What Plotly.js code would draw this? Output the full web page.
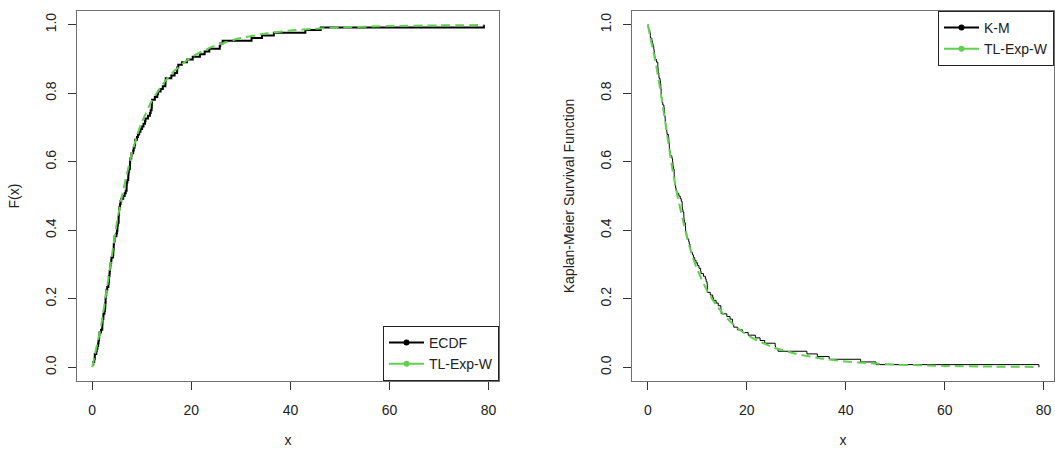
<!DOCTYPE html>
<html>
<head>
<meta charset="utf-8">
<script src="https://cdn.plot.ly/plotly-3.0.1.min.js"></script>
<style>html,body{margin:0;padding:0;background:#fff;}#chart{width:1055px;height:452px;}</style>
</head>
<body>
<div id="chart"></div>
<script>
// Observed data (sorted remission times)
const remissionTimes = [0.08,0.20,0.40,0.50,0.51,0.81,0.90,1.05,1.19,1.26,
  1.35,1.40,1.46,1.76,2.02,2.02,2.07,2.09,2.23,2.26,
  2.46,2.54,2.62,2.64,2.69,2.69,2.75,2.83,2.87,3.02,
  3.25,3.31,3.36,3.36,3.48,3.52,3.57,3.64,3.70,3.82,
  3.88,4.18,4.23,4.26,4.33,4.34,4.40,4.50,4.51,4.87,
  4.98,5.06,5.09,5.17,5.32,5.32,5.34,5.41,5.41,5.49,
  5.62,5.71,5.85,6.25,6.54,6.76,6.93,6.94,6.97,7.09,
  7.26,7.28,7.32,7.39,7.59,7.62,7.63,7.66,7.87,7.93,
  8.26,8.37,8.53,8.65,8.66,9.02,9.22,9.47,9.74,10.06,
  10.34,10.66,10.75,11.25,11.64,11.79,11.98,12.02,12.03,12.07,
  12.63,13.11,13.29,13.80,14.24,14.76,14.77,14.83,15.96,16.62,
  17.12,17.14,17.36,18.10,19.13,20.28,21.73,22.69,23.63,25.74,
  25.82,26.31,32.15,34.26,36.66,43.01,46.12,79.05];

// Fitted TL-Exp-W curves
const fitX    = [0, 0.5, 1, 1.5, 2, 3, 4, 5, 6, 7, 8, 9, 10, 12, 14, 16, 18, 20, 22, 25, 30, 35, 40, 45, 50, 60, 70, 79.05];
const fitCDF  = [0, 0.035, 0.068, 0.10, 0.14, 0.235, 0.33, 0.425, 0.50, 0.565, 0.625, 0.675, 0.715, 0.777, 0.822, 0.857, 0.884, 0.905, 0.921, 0.94, 0.961, 0.974, 0.983, 0.988, 0.992, 0.996, 0.998, 0.999];
const fitSurv = [1, 0.962, 0.93, 0.895, 0.855, 0.765, 0.67, 0.575, 0.50, 0.435, 0.375, 0.325, 0.285, 0.223, 0.178, 0.143, 0.116, 0.095, 0.079, 0.06, 0.039, 0.026, 0.017, 0.012, 0.008, 0.004, 0.002, 0.001];

const xTicks = [0, 20, 40, 60, 80];
const yTicks = [0, 0.2, 0.4, 0.6, 0.8, 1.0];
const yTickText = ['0.0', '0.2', '0.4', '0.6', '0.8', '1.0'];
const legendLeft = ['ECDF', 'TL-Exp-W'];
const legendRight = ['K-M', 'TL-Exp-W'];

const n = remissionTimes.length;
const ecdfY = remissionTimes.map((v, i) => (i + 1) / n);
const kmX = [0].concat(remissionTimes);
const kmY = [1].concat(remissionTimes.map((v, i) => 1 - (i + 1) / n));

const GREEN = '#61D04F';
const FONT = 'Liberation Sans, Arial, sans-serif';
const TXT = '#222';

const traces = [
  {x: remissionTimes, y: ecdfY, xaxis: 'x', yaxis: 'y', mode: 'lines', line: {color: '#000', width: 2, shape: 'hv'}, showlegend: false, hoverinfo: 'skip'},
  {x: fitX, y: fitCDF, xaxis: 'x', yaxis: 'y', mode: 'lines', line: {color: GREEN, width: 2, dash: '9px,5px', shape: 'spline', smoothing: 0.6}, showlegend: false, hoverinfo: 'skip'},
  {x: kmX, y: kmY, xaxis: 'x2', yaxis: 'y2', mode: 'lines', line: {color: '#000', width: 1, shape: 'hv'}, showlegend: false, hoverinfo: 'skip'},
  {x: fitX, y: fitSurv, xaxis: 'x2', yaxis: 'y2', mode: 'lines', line: {color: GREEN, width: 2, dash: '9px,5px', shape: 'spline', smoothing: 0.6}, showlegend: false, hoverinfo: 'skip'},
  // legend entries
  {x: [null], y: [null], xaxis: 'x', yaxis: 'y', name: legendLeft[0], mode: 'lines+markers', line: {color: '#000', width: 2}, marker: {color: '#000', size: 6}, legend: 'legend'},
  {x: [null], y: [null], xaxis: 'x', yaxis: 'y', name: legendLeft[1], mode: 'lines+markers', line: {color: GREEN, width: 2}, marker: {color: GREEN, size: 6}, legend: 'legend'},
  {x: [null], y: [null], xaxis: 'x2', yaxis: 'y2', name: legendRight[0], mode: 'lines+markers', line: {color: '#000', width: 2}, marker: {color: '#000', size: 6}, legend: 'legend2'},
  {x: [null], y: [null], xaxis: 'x2', yaxis: 'y2', name: legendRight[1], mode: 'lines+markers', line: {color: GREEN, width: 2}, marker: {color: GREEN, size: 6}, legend: 'legend2'}
];

function xAxis(domain, range, anchor) {
  return {
    domain: domain, range: range, anchor: anchor,
    tickmode: 'array', tickvals: xTicks, ticktext: xTicks.map(String),
    ticks: 'outside', ticklen: 8, tickcolor: '#333', tickwidth: 1,
    showline: true, linecolor: '#707070', linewidth: 1, mirror: true,
    showgrid: false, zeroline: false,
    tickfont: {family: FONT, size: 14, color: TXT},
    ticklabelstandoff: 8,
    title: {text: 'x', font: {family: FONT, size: 14, color: TXT}, standoff: 18}
  };
}
function yAxis(domain, title, anchor) {
  return {
    domain: domain, range: [-0.04, 1.04], anchor: anchor,
    tickmode: 'array', tickvals: yTicks, ticktext: yTickText, tickangle: -90,
    ticks: 'outside', ticklen: 8, tickcolor: '#333', tickwidth: 1,
    showline: true, linecolor: '#707070', linewidth: 1, mirror: true,
    showgrid: false, zeroline: false,
    tickfont: {family: FONT, size: 14, color: TXT},
    ticklabelstandoff: 6,
    title: {text: title, font: {family: FONT, size: 14, color: TXT}, standoff: 20}
  };
}

const legendCommon = {bgcolor: '#fff', bordercolor: '#222', borderwidth: 1, font: {family: FONT, size: 14, color: TXT}, tracegroupgap: 0, itemwidth: 35};

const layout = {
  width: 1055, height: 452,
  margin: {l: 0, r: 0, t: 11, b: 71},
  paper_bgcolor: '#fff', plot_bgcolor: '#fff',
  font: {family: FONT, size: 14, color: TXT},
  xaxis: xAxis([77/1055, 499/1055], [-3.08, 82.1], 'y'),
  yaxis: yAxis([0, 1], 'F(x)', 'x'),
  xaxis2: xAxis([632/1055, 1054/1055], [-3.2, 82.1], 'y2'),
  yaxis2: yAxis([0, 1], 'Kaplan-Meier Survival Function', 'x2'),
  legend: Object.assign({x: 499/1055, y: 0, xanchor: 'right', yanchor: 'bottom'}, legendCommon),
  legend2: Object.assign({x: 1054/1055, y: 1, xanchor: 'right', yanchor: 'top'}, legendCommon),
  showlegend: true
};

Plotly.newPlot('chart', traces, layout, {staticPlot: true, displayModeBar: false});
</script>
</body>
</html>
